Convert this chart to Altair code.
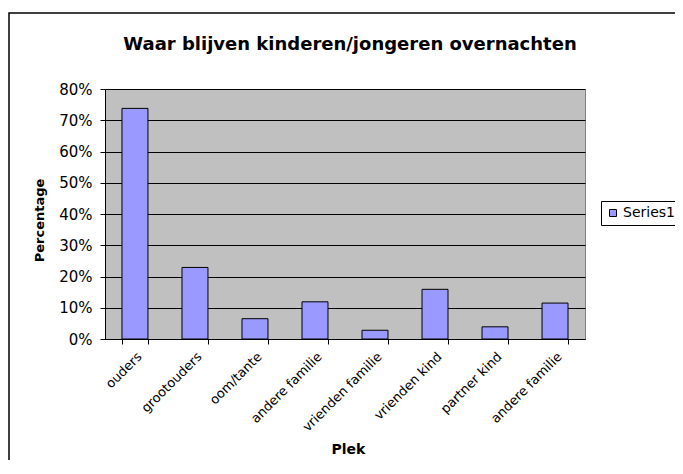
import json
import altair as alt
import pandas as pd

# ---- data ----
categories = ["ouders", "grootouders", "oom/tante", "andere familie",
              "vrienden familie", "vrienden kind", "partner kind", "andere familie"]
values = [0.738, 0.229, 0.065, 0.119, 0.028, 0.159, 0.039, 0.115]
series_name = "Series1"
y_ticks = [0, 0.1, 0.2, 0.3, 0.4, 0.5, 0.6, 0.7, 0.8]

df = pd.DataFrame({
    "idx": list(range(len(categories))),
    "plek": categories,
    "value": values,
    "series": [series_name] * len(categories),
})

FONT = "DejaVu Sans"
W, H = 480, 250
label_expr = json.dumps(categories) + "[datum.value]"

bars = alt.Chart(df).mark_bar(stroke="black", strokeWidth=1).encode(
    x=alt.X(
        "idx:O",
        sort=None,
        scale=alt.Scale(paddingInner=0.567, paddingOuter=0.283),
        axis=alt.Axis(
            title="Plek",
            labelExpr=label_expr,
            labelAngle=-45,
            labelFont=FONT,
            labelFontSize=13,
            labelColor="black",
            labelPadding=6,
            tickBand="extent",
            tickSize=5,
            tickColor="black",
            domainColor="black",
            titleFont=FONT,
            titleFontSize=14,
            titleFontWeight="bold",
            titleColor="black",
            titleX=243,
            titleY=110,
            titleBaseline="middle",
            titleAlign="center",
        ),
    ),
    y=alt.Y(
        "value:Q",
        scale=alt.Scale(domain=[0, 0.8], nice=False),
        axis=alt.Axis(
            title="Percentage",
            values=y_ticks,
            format=".0%",
            labelFont=FONT,
            labelFontSize=15,
            labelColor="black",
            labelPadding=8,
            tickSize=5,
            tickColor="black",
            domainColor="black",
            grid=True,
            gridColor="black",
            gridWidth=1,
            titleFont=FONT,
            titleFontSize=13,
            titleFontWeight="bold",
            titleColor="black",
            titleX=-59,
            titleY=131,
            titleBaseline="bottom",
            titleAlign="center",
            titleAngle=-90,
        ),
    ),
    color=alt.Color(
        "series:N",
        scale=alt.Scale(range=["#9999FF"]),
        legend=alt.Legend(
            title=None,
            orient="none",
            legendX=496,
            legendY=112,
            padding=5,
            strokeColor="black",
            fillColor="white",
            symbolType="square",
            symbolSize=49,
            symbolStrokeColor="black",
            symbolStrokeWidth=1,
            symbolOpacity=1,
            labelFont=FONT,
            labelFontSize=14,
            labelColor="black",
            labelOffset=3,
        ),
    ),
)

frame = alt.Chart(alt.Data(values=[{}])).mark_rect(
    fill=None, stroke="black", strokeWidth=1.5
).encode(
    x=alt.value(-96),
    y=alt.value(-76),
    x2=alt.value(W + 200),
    y2=alt.value(H + 200),
)

chart = alt.layer(frame, bars).properties(
    width=W,
    height=H,
    padding={"left": 97, "top": 81, "right": 90, "bottom": 121},
    autosize=alt.AutoSizeParams(type="none"),
    title=alt.TitleParams(
        text="Waar blijven kinderen/jongeren overnachten",
        font=FONT,
        fontSize=18,
        fontWeight="bold",
        color="black",
        anchor="middle",
        frame="group",
        baseline="alphabetic",
        offset=-34,
        dx=5,
        dy=22,
    ),
).configure(
    background="white"
).configure_view(
    fill="#C0C0C0", stroke="#808080", strokeWidth=1
)

chart.save("out.html", embed_options={"renderer": "svg", "actions": False})
